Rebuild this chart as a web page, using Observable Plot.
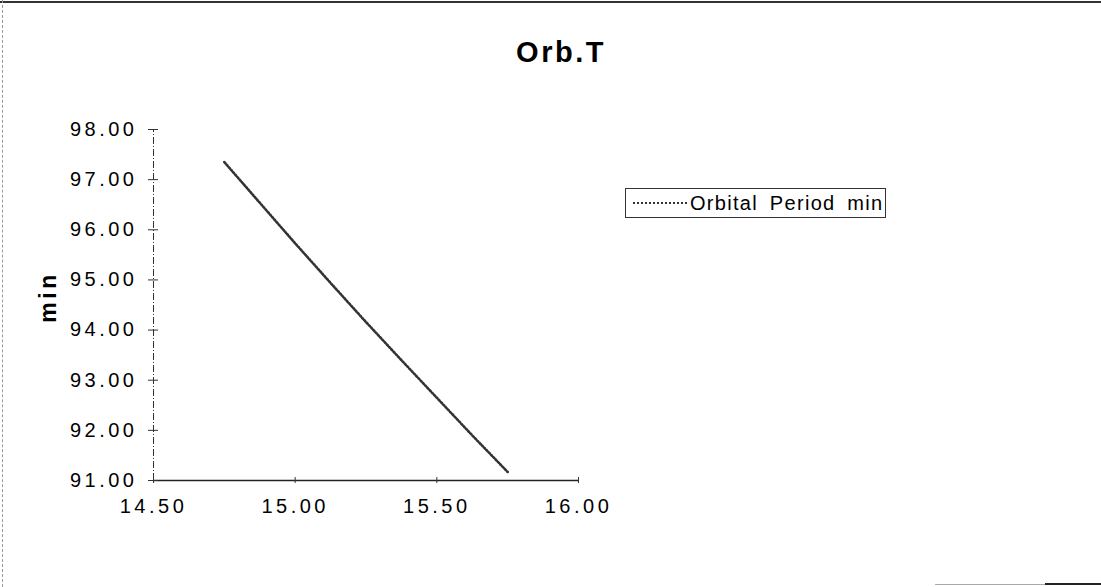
<!DOCTYPE html>
<html>
<head>
<meta charset="utf-8">
<script src="https://cdn.jsdelivr.net/npm/d3@7"></script>
<script src="https://cdn.jsdelivr.net/npm/@observablehq/plot@0.6"></script>
<style>
  html, body { margin: 0; padding: 0; background: #fff; }
  #wrap { position: relative; width: 1101px; height: 587px; overflow: hidden; font-family: "Liberation Sans", Arial, Helvetica, sans-serif; }
  #wrap svg text { letter-spacing: 3.5px; }
  #title { position: absolute; left: 411px; width: 300px; top: 38px; text-align: center; font-size: 29px; line-height: 29px; font-weight: bold; letter-spacing: 2.5px; color: #000; }
  #legend { position: absolute; left: 625px; top: 188px; width: 259px; height: 28px; border: 1px solid #333; display: flex; align-items: center; font-size: 20px; letter-spacing: 1.3px; word-spacing: 5px; color: #000; white-space: nowrap; }
  #legend .sample { display: inline-block; width: 54px; margin-left: 7px; margin-right: 3px; border-top: 2px dotted #333; }
  #topline { position: absolute; left: 0; top: 1px; width: 1101px; height: 2px; background: #333; }
  #leftline { position: absolute; left: 2px; top: 0; height: 587px; border-left: 1px dashed #999; }
  #brline1 { position: absolute; left: 935px; top: 584px; width: 166px; height: 1px; background: #aaa; }
  #brline2 { position: absolute; left: 1045px; top: 583px; width: 56px; height: 2px; background: #222; }
</style>
</head>
<body>
<div id="wrap">
  <div id="topline"></div>
  <div id="leftline"></div>
  <div id="brline1"></div>
  <div id="brline2"></div>
  <div id="chart"></div>
  <div id="title">Orb.T</div>
  <div id="legend"><span class="sample"></span><span>Orbital Period min</span></div>
</div>
<script>
// Revolutions per day (x) and orbital period in minutes (y)
const revsPerDay = [14.75, 14.875, 15.00, 15.125, 15.25, 15.375, 15.50, 15.625, 15.75];
const periodMin  = [97.35, 96.54, 95.73, 94.94, 94.16, 93.40, 92.65, 91.90, 91.17];

const xTicks = [14.50, 15.00, 15.50, 16.00];
const yTicks = [91, 92, 93, 94, 95, 96, 97, 98];
const xDomain = [14.5, 16];
const yDomain = [91, 98];
const yLabel = "min";

const data = revsPerDay.map((x, i) => ({x, y: periodMin[i]}));
const fmt = d => d.toFixed(2);

const plot = Plot.plot({
  width: 1101,
  height: 587,
  marginLeft: 153,
  marginRight: 523,
  marginTop: 129,
  marginBottom: 107,
  style: { fontFamily: '"Liberation Sans", Arial, Helvetica, sans-serif', color: "#000", background: "transparent" },
  x: { domain: xDomain },
  y: { domain: yDomain },
  marks: [
    // axis lines
    Plot.ruleX([xDomain[0]], { y1: yDomain[0], y2: yDomain[1], stroke: "#333", strokeWidth: 1, strokeDasharray: "7 2 1 2" }),
    Plot.ruleY([yDomain[0]], { x1: xDomain[0], x2: xDomain[1], stroke: "#222", strokeWidth: 1.3 }),
    // crossing tick marks
    Plot.axisY({ ticks: yTicks, tickSize: 10, dx: 5, tickFormat: () => "", label: null, stroke: "#333" }),
    Plot.axisX({ ticks: xTicks, tickSize: 6, dy: -3, tickFormat: () => "", label: null, stroke: "#333" }),
    // tick labels
    Plot.axisY({ ticks: yTicks, tickSize: 0, tickPadding: 16, tickFormat: fmt, label: null, fontSize: 20 }),
    Plot.axisX({ ticks: xTicks, tickSize: 0, tickPadding: 18, tickFormat: fmt, label: null, fontSize: 20 }),
    // y label
    Plot.text([yLabel], { frameAnchor: "left", dx: -105, dy: -8, rotate: -90, text: d => d, fontSize: 23, fontWeight: "bold", textAnchor: "middle", lineAnchor: "middle" }),
    // series
    Plot.line(data, { x: "x", y: "y", stroke: "#333", strokeWidth: 2.6, strokeDasharray: "1.5 1.8", curve: "linear" })
  ]
});
document.getElementById("chart").appendChild(plot);
</script>
</body>
</html>
